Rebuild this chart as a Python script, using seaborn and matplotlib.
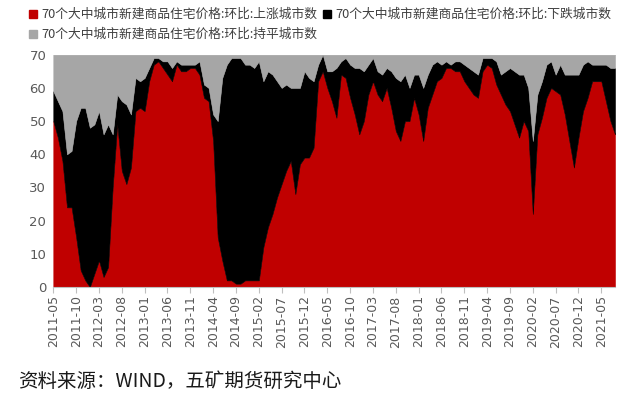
import numpy as np
import pandas as pd
import matplotlib
matplotlib.use("Agg")
import matplotlib.pyplot as plt
import seaborn as sns
from matplotlib.patches import Rectangle

months = pd.period_range("2011-05", "2021-08", freq="M").strftime("%Y-%m").tolist()

up = [50, 45, 38, 24, 24, 15, 5, 2, 0, 4, 8, 3, 6, 30, 49, 35, 31, 36, 53, 54,
      53, 62, 67, 68, 66, 64, 62, 67, 65, 65, 66, 66, 64, 57, 56, 44, 15, 8, 2, 2,
      1, 1, 2, 2, 2, 2, 12, 18, 22, 27, 31, 35, 38, 28, 37, 39, 39, 42, 62, 65,
      60, 56, 51, 64, 63, 57, 52, 46, 50, 58, 62, 58, 56, 60, 54, 47, 44, 50, 50, 57,
      52, 44, 54, 58, 62, 63, 66, 66, 65, 65, 62, 60, 58, 57, 65, 67, 66, 61, 58, 55,
      53, 49, 45, 50, 47, 22, 46, 51, 57, 60, 59, 58, 52, 44, 36, 45, 53, 57, 62, 62,
      62, 56, 50, 46]

down = [9, 11, 15, 16, 17, 35, 49, 52, 48, 45, 45, 43, 43, 16, 9, 21, 24, 16, 10, 8,
        10, 4, 2, 1, 2, 4, 4, 1, 2, 2, 1, 1, 4, 4, 4, 8, 35, 55, 65, 67,
        68, 68, 65, 65, 64, 66, 50, 47, 42, 35, 29, 26, 22, 32, 23, 26, 24, 20, 5, 5,
        5, 9, 15, 4, 6, 10, 14, 20, 15, 9, 7, 7, 8, 6, 11, 16, 18, 14, 10, 7,
        12, 16, 10, 9, 6, 4, 2, 1, 3, 3, 5, 6, 7, 7, 4, 2, 3, 7, 6, 10,
        13, 16, 19, 14, 13, 22, 12, 11, 10, 8, 5, 9, 12, 20, 28, 19, 14, 11, 5, 5,
        5, 11, 16, 20]

flat = [11, 14, 17, 30, 29, 20, 16, 16, 22, 21, 17, 24, 21, 24, 12, 14, 15, 18, 7, 8,
        7, 4, 1, 1, 2, 2, 4, 2, 3, 3, 3, 3, 2, 9, 10, 18, 20, 7, 3, 1,
        1, 1, 3, 3, 4, 2, 8, 5, 6, 8, 10, 9, 10, 10, 10, 5, 7, 8, 3, 0,
        5, 5, 4, 2, 1, 3, 4, 4, 5, 3, 1, 5, 6, 4, 5, 7, 8, 6, 10, 6,
        6, 10, 6, 3, 2, 3, 2, 3, 2, 2, 3, 4, 5, 6, 1, 1, 1, 2, 6, 5,
        4, 5, 6, 6, 10, 26, 12, 8, 3, 2, 6, 3, 6, 6, 6, 6, 3, 2, 3, 3,
        3, 3, 4, 4]

series_names = ["70个大中城市新建商品住宅价格:环比:上涨城市数",
                "70个大中城市新建商品住宅价格:环比:下跌城市数",
                "70个大中城市新建商品住宅价格:环比:持平城市数"]
colors = ["#C00000", "#000000", "#A6A6A6"]
source = "资料来源：WIND，五矿期货研究中心"

sns.set_theme(style="white")
plt.rcParams["font.family"] = ["DejaVu Sans"]
cjk = ["Noto Sans CJK SC", "DejaVu Sans"]

W, H = 640, 396
fig = plt.figure(figsize=(W / 100, H / 100), dpi=100)
L, R, T, B = 53.3, 615, 54.7, 287
ax = fig.add_axes([L / W, 1 - B / H, (R - L) / W, (B - T) / H])

x = np.arange(len(months))
polys = ax.stackplot(x, up, down, flat, colors=colors)
for p, c in zip(polys, colors):
    p.set_edgecolor(c)
    p.set_linewidth(0.4)

ax.set_xlim(0, len(months) - 1)
ax.set_ylim(0, 70)
ax.set_yticks(range(0, 71, 10))
ax.set_xticks(x[::5])
ax.set_xticklabels(months[::5], rotation=90)
ax.tick_params(axis="x", length=4, width=0.8, color="#BFBFBF", direction="out",
               pad=2, labelsize=9, labelcolor="#595959", bottom=True)
ax.tick_params(axis="y", length=0, pad=5, labelsize=9.5, labelcolor="#595959")
for s in ["left", "top", "right"]:
    ax.spines[s].set_visible(False)
ax.spines["bottom"].set_color("#BFBFBF")
ax.spines["bottom"].set_linewidth(0.8)
ax.grid(False)

def legend_item(px, py, color, text):
    sz = 8
    fig.patches.append(Rectangle((px / W, 1 - (py + sz / 2) / H), sz / W, sz / H,
                                 transform=fig.transFigure, color=color))
    fig.text((px + 12) / W, 1 - py / H, text, fontsize=9.2, family=cjk,
             color="#404040", va="center", ha="left")

legend_item(29, 14, colors[0], series_names[0])
legend_item(323, 14, colors[1], series_names[1])
legend_item(29, 34, colors[2], series_names[2])

fig.text(18 / W, 1 - 381 / H, source, fontsize=14, family=cjk,
         color="#1a1a1a", va="center", ha="left")

fig.savefig("out.png", dpi=100)
